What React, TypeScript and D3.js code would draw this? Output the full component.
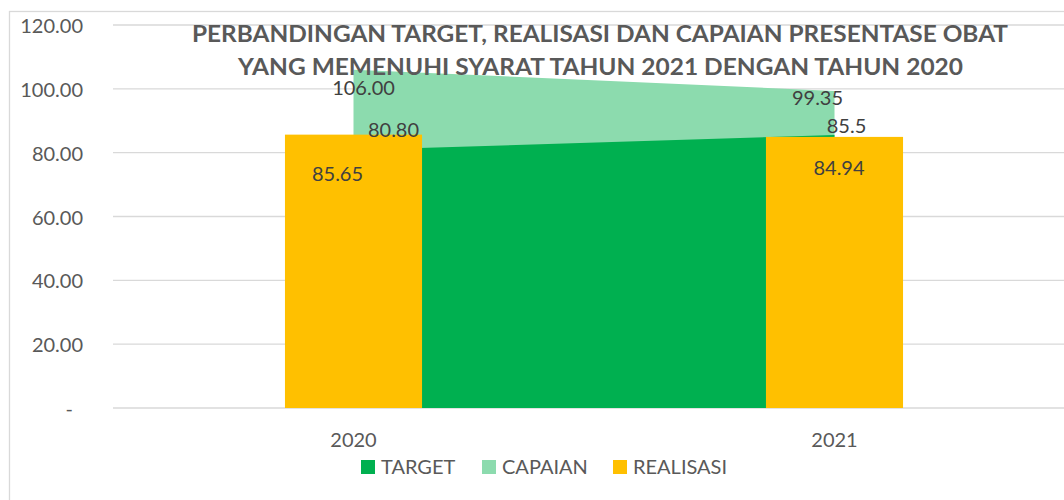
import React from "react";
import * as d3 from "d3";

const categories = ["2020", "2021"];
const target = [80.8, 85.5];
const capaian = [106.0, 99.35];
const realisasi = [85.65, 84.94];
const targetLabels = ["80.80", "85.5"];
const capaianLabels = ["106.00", "99.35"];
const realisasiLabels = ["85.65", "84.94"];
const yTicks = [0, 20, 40, 60, 80, 100, 120];
const titleLines = [
  "PERBANDINGAN TARGET, REALISASI DAN CAPAIAN PRESENTASE OBAT",
  "YANG MEMENUHI SYARAT TAHUN 2021 DENGAN TAHUN 2020",
];
const legendItems = ["TARGET", "CAPAIAN", "REALISASI"];

const W = 1064;
const H = 500;
const FONT = "Lato, 'Open Sans', sans-serif";
const C_TARGET = "#00B050";
const C_CAPAIAN = "#8CDBAE";
const C_REAL = "#FFC000";
const GRID = "#D9D9D9";
const TXT = "#595959";
const LBL = "#404040";

// label placement offsets (layout only)
const capOff = [[10, 17], [-17, 6.5]];
const tgtOff = [[40, -21], [12, -10]];
const realOff = [[-16, 38], [4.5, 30.5]];

export default function App() {
  const x = d3.scaleBand<string>().domain(categories).range([113, 1075]);
  const cx = (c: string) => (x(c) as number) + x.bandwidth() / 2;
  const y = d3.scaleLinear().domain([0, 120]).range([408, 25]);
  const barW = x.bandwidth() * 0.285;

  const areaGen = (vals: number[]) =>
    d3
      .area<number>()
      .x((_, i) => cx(categories[i]))
      .y0(y(0))
      .y1((d) => y(d))(vals) as string;

  const legendColors = [C_TARGET, C_CAPAIAN, C_REAL];
  const legendX = [361, 482, 613];

  return (
    <svg
      width={W}
      height={H}
      style={{ position: "absolute", left: 0, top: 0, background: "#fff" }}
    >
      <rect x={9.5} y={11.5} width={1100} height={600} fill="#fff" stroke={GRID} strokeWidth={1.3} />
      {yTicks.map((t) => (
        <g key={t}>
          <line x1={113} x2={1075} y1={y(t)} y2={y(t)} stroke={GRID} strokeWidth={1.4} />
          <text
            x={t === 0 ? 73 : 83}
            y={y(t)}
            textAnchor="end"
            dominantBaseline="central"
            fontFamily={FONT}
            fontSize={20}
            fill={TXT}
          >
            {t === 0 ? "-" : d3.format(".2f")(t)}
          </text>
        </g>
      ))}
      <path d={areaGen(capaian)} fill={C_CAPAIAN} />
      <path d={areaGen(target)} fill={C_TARGET} />
      {realisasi.map((v, i) => (
        <rect
          key={i}
          x={cx(categories[i]) - barW / 2}
          y={y(v)}
          width={barW}
          height={y(0) - y(v)}
          fill={C_REAL}
        />
      ))}
      {categories.map((c, i) => (
        <g key={c} fontFamily={FONT} fontSize={20} fill={LBL} textAnchor="middle" dominantBaseline="central">
          <text x={cx(c) + capOff[i][0]} y={y(capaian[i]) + capOff[i][1]}>{capaianLabels[i]}</text>
          <text x={cx(c) + tgtOff[i][0]} y={y(target[i]) + tgtOff[i][1]}>{targetLabels[i]}</text>
          <text x={cx(c) + realOff[i][0]} y={y(realisasi[i]) + realOff[i][1]}>{realisasiLabels[i]}</text>
          <text x={cx(c)} y={438.5} fill={TXT}>{c}</text>
        </g>
      ))}
      <text x={600} y={42} textAnchor="middle" fontFamily={FONT} fontWeight="bold" fontSize={23} fill={TXT} textLength={816} lengthAdjust="spacingAndGlyphs">
        {titleLines[0]}
      </text>
      <text x={600.5} y={75} textAnchor="middle" fontFamily={FONT} fontWeight="bold" fontSize={23} fill={TXT} textLength={725} lengthAdjust="spacingAndGlyphs">
        {titleLines[1]}
      </text>
      {legendItems.map((l, i) => (
        <g key={l}>
          <rect x={legendX[i]} y={460} width={14} height={14} fill={legendColors[i]} />
          <text x={legendX[i] + 20} y={474} fontFamily={FONT} fontSize={20} fill={TXT}>
            {l}
          </text>
        </g>
      ))}
    </svg>
  );
}
